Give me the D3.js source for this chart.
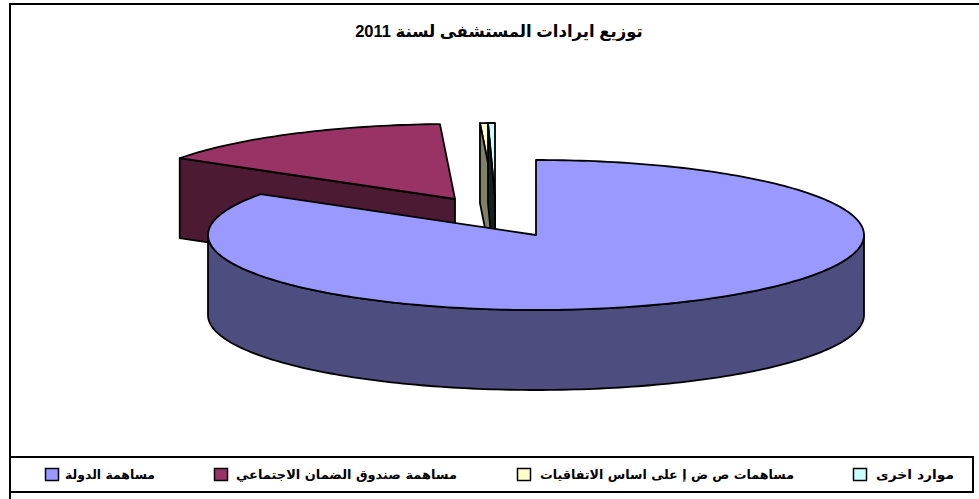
<!DOCTYPE html>
<html lang="ar">
<head>
<meta charset="utf-8">
<title>توزيع ايرادات المستشفى لسنة 2011</title>
<script src="https://cdn.jsdelivr.net/npm/d3@7/dist/d3.min.js"></script>
<style>
  html, body { margin: 0; padding: 0; background: #fff; }
  svg { display: block; }
  .legend-label { font-family: "DejaVu Serif", "DejaVu Sans", serif; font-weight: 700; font-size: 12.5px; }
  .chart-title { font-family: "Liberation Sans", "DejaVu Sans", sans-serif; font-weight: 700; font-size: 16.5px; }
</style>
</head>
<body>
<script>
// Revenue sources of the hospital, 2011 (percent of total)
const titleText = "توزيع ايرادات المستشفى لسنة 2011";
const categories = [
  "مساهمة الدولة",
  "مساهمة صندوق الضمان الاجتماعي",
  "مساهمات ص ض إ على اساس الاتفاقيات",
  "موارد اخرى"
];
const shares = [84.15, 15.12, 0.39, 0.34];

// Fill of the top surface and of the side walls for each slice
const topColors = ["#9999ff", "#993366", "#ffffcc", "#ccffff"];
const wallColors = ["#4d4d80", "#4d1a33", "#808066", "#1a2020"];

// Pie projection: flattened ellipse, extruded downward
const W = 979, H = 499;
const cx = 536, cy = 235, rx = 328, ry = 75, depth = 80;
const explode = [[0, 0], [-81, -36], [-41, -37], [-41, -37]];

const svg = d3.select("body").append("svg").attr("width", W).attr("height", H);

const arcs = d3.pie().sort(null).value(d => d)(shares);

const px = d3.scaleLinear().domain([-1, 1]).range([-rx, rx]);
const py = d3.scaleLinear().domain([-1, 1]).range([ry, -ry]);
const pt = (i, a, z = 0) => [
  cx + explode[i][0] + px(Math.sin(a)),
  cy + explode[i][1] + py(Math.cos(a)) + z
];
const apex = (i, z = 0) => [cx + explode[i][0], cy + explode[i][1] + z];

const line = d3.line();
const rimPoints = (i, a0, a1, z = 0) => {
  const n = Math.max(2, Math.ceil(Math.abs(a1 - a0) / 0.02));
  return d3.range(n + 1).map(k => pt(i, a0 + (a1 - a0) * k / n, z));
};
const strokeWidth = 1.8;
const poly = (points, fill) => svg.append("path")
  .attr("d", line(points) + "Z")
  .attr("fill", fill)
  .attr("stroke", "#000")
  .attr("stroke-width", strokeWidth)
  .attr("stroke-linejoin", "round");
const rule = (x1, y1, x2, y2) => svg.append("line")
  .attr("x1", x1).attr("y1", y1).attr("x2", x2).attr("y2", y2)
  .attr("stroke", "#000").attr("stroke-width", 2);

// Chart frame: open on the right, the legend box closes its lower part
rule(9, 4, 979, 4);
rule(10, 3, 10, 499);
svg.append("rect").attr("x", 10).attr("y", 457).attr("width", 963).attr("height", 35)
  .attr("fill", "#fff").attr("stroke", "#000").attr("stroke-width", 2);

svg.append("text").attr("class", "chart-title")
  .attr("x", 499).attr("y", 37)
  .attr("text-anchor", "middle").attr("direction", "rtl")
  .text(titleText);

// Cut face on the leading edge of an exploded slice
const leadingFace = (i, a) => poly(
  [pt(i, a), apex(i), apex(i, depth), pt(i, a, depth)],
  wallColors[i]
);
const topFace = i => poly(
  [apex(i), ...rimPoints(i, arcs[i].startAngle, arcs[i].endAngle)],
  topColors[i]
);

// Back slices first, the state share last so it covers them
leadingFace(1, arcs[1].startAngle);
topFace(1);

topFace(2);
leadingFace(2, arcs[2].startAngle);
topFace(3);
leadingFace(3, arcs[3].startAngle);

// Outer wall of the main slice: only the near half of the rim is visible
const nearRim = rimPoints(0, Math.PI / 2, 3 * Math.PI / 2);
poly([...nearRim, ...nearRim.map(([x, y]) => [x, y + depth]).reverse()], wallColors[0]);
topFace(0);

// Legend
const legendX = [45, 214, 517, 853];
const textX = [65, 236, 540, 876];
const textWidth = [90, 221, 254, 78];
const legendY = 468, swatch = 13;
categories.forEach((name, i) => {
  svg.append("rect")
    .attr("x", legendX[i] + 0.5).attr("y", legendY + 0.5)
    .attr("width", swatch).attr("height", swatch - 1)
    .attr("fill", topColors[i])
    .attr("stroke", "#000").attr("stroke-width", 1.5);
  svg.append("text").attr("class", "legend-label")
    .attr("x", textX[i]).attr("y", legendY + 11)
    .attr("textLength", textWidth[i]).attr("lengthAdjust", "spacingAndGlyphs")
    .text(name);
});
</script>
</body>
</html>
